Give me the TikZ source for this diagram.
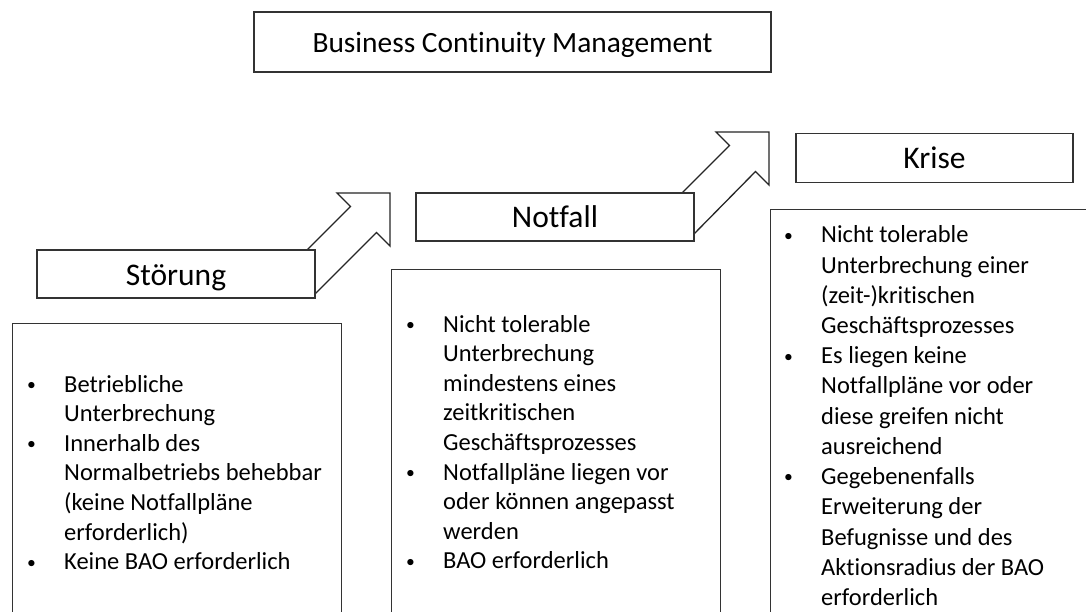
\documentclass[tikz,border=0pt]{standalone}
\usepackage{fontspec}
\setmainfont{Carlito}[Ligatures=NoCommon]
% bullet marker and continuation indent for the item lists
\newcommand\bpt{\makebox[37pt][l]{\raisebox{1.6pt}{\scalebox{0.72}{\textbullet}}}}
\newcommand\cont{\hspace*{37pt}}
\begin{document}
\begin{tikzpicture}[x=1pt,y=-1pt,
  frame/.style={draw=black!80, line width=1.3pt, fill=white},
  headbox/.style={frame, minimum width=278pt, minimum height=48pt, inner sep=0pt,
    text height=24pt, text depth=2pt, font=\fontsize{31.5}{36}\selectfont},
  listbox/.style={frame, anchor=north west, minimum width=329pt, minimum height=420pt, inner sep=0pt},
  listtext/.style={anchor=base west, inner sep=0pt, font=\fontsize{24.5}{29.6}\selectfont},
  blockarrow/.style={draw=black!85, line width=1.3pt, fill=white, line join=miter}]
\clip (0,0) rectangle (1086,612);
\fill[white] (0,0) rectangle (1086,612);

% title
\node[frame, minimum width=517pt, minimum height=60pt, inner sep=0pt,
  text height=24pt, text depth=2pt,
  font=\fontsize{29.4}{34}\selectfont] (title) at (512.5,42) {Business Continuity Management};

% detail boxes
\node[listbox] (sbox) at (12,323) {};
\node[listbox] (nbox) at (391,269) {};
\node[listbox] (kbox) at (770,209) {};

% block arrows between the stages (tails hidden under the stage boxes)
\draw[blockarrow] (287.5,269.5) -- (350.5,206.5) -- (337,193) -- (390,193)
  -- (390,246) -- (376.5,232.5) -- (313.5,295.5) -- cycle;
\draw[blockarrow] (665,210) -- (729.5,145.5) -- (716,132) -- (769,132)
  -- (769,185) -- (755.5,171.5) -- (691.5,236.5) -- cycle;

% stage boxes
\node[headbox] (stoerung) at (176,274) {Störung};
\node[headbox] (notfall) at (555,217) {Notfall};
\node[headbox, minimum width=277pt, minimum height=49pt] (krise) at (934.5,158) {Krise};

% item lists
\node[listtext] (stext) at (27,392) {\parbox[t]{320pt}{%
  \bpt Betriebliche\\
  \cont Unterbrechung\\
  \bpt Innerhalb des\\
  \cont Normalbetriebs behebbar\\
  \cont (keine Notfallpläne\\
  \cont erforderlich)\\
  \bpt Keine BAO erforderlich}};

\node[listtext] (ntext) at (406,332) {\parbox[t]{320pt}{%
  \bpt Nicht tolerable\\
  \cont Unterbrechung\\
  \cont mindestens eines\\
  \cont zeitkritischen\\
  \cont Geschäftsprozesses\\
  \bpt Notfallpläne liegen vor\\
  \cont oder können angepasst\\
  \cont werden\\
  \bpt BAO erforderlich}};

\node[listtext, font=\fontsize{24.5}{30.2}\selectfont] (ktext) at (784,243) {\parbox[t]{320pt}{%
  \bpt Nicht tolerable\\
  \cont Unterbrechung einer\\
  \cont (zeit-)kritischen\\
  \cont Geschäftsprozesses\\
  \bpt Es liegen keine\\
  \cont Notfallpläne vor oder\\
  \cont diese greifen nicht\\
  \cont ausreichend\\
  \bpt Gegebenenfalls\\
  \cont Erweiterung der\\
  \cont Befugnisse und des\\
  \cont Aktionsradius der BAO\\
  \cont erforderlich}};
\end{tikzpicture}
\end{document}
